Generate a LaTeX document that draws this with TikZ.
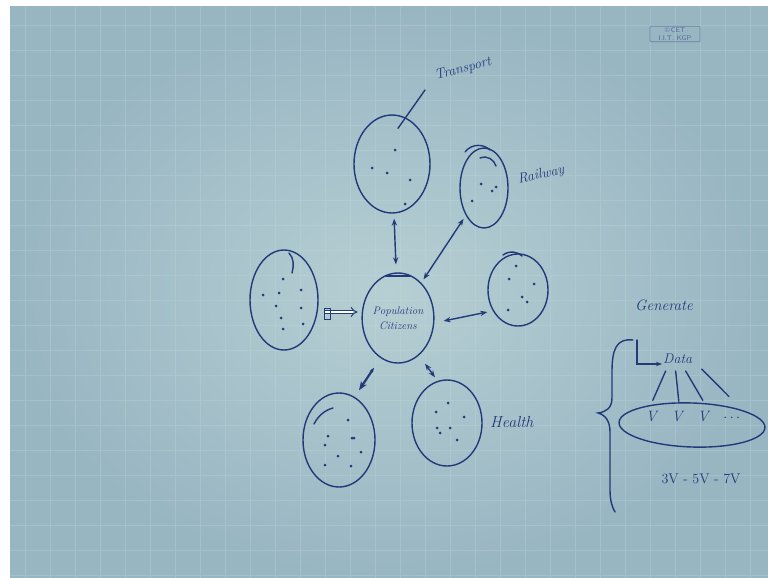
\documentclass[tikz,border=0pt]{standalone}
\usetikzlibrary{shapes.geometric,arrows.meta,calc}
\definecolor{paper}{RGB}{182,207,211}
\definecolor{paperedge}{RGB}{152,181,194}
\definecolor{gridc}{RGB}{196,218,222}
\definecolor{ink}{RGB}{34,58,122}
\begin{document}
\begin{tikzpicture}[x=1pt,y=-1pt,
  pen/.style={draw=ink,line width=1.4pt,line cap=round},
  blob/.style={ellipse,draw=ink,line width=1.4pt,inner sep=0pt},
  hand/.style={text=ink,font=\itshape\fontsize{14}{16}\selectfont,inner sep=1pt},
  link/.style={ink,line width=1.4pt,{Stealth[length=7pt]}-{Stealth[length=7pt]}},
  dot/.style={fill=ink,draw=none}]
\useasboundingbox (0,0) rectangle (768,578);
\fill[white] (0,0) rectangle (768,578);
\shade[inner color=paper,outer color=paperedge] (10,7) rectangle (768,578);
\draw[gridc,opacity=0.3,line width=0.5pt,step=25pt] (10,7) grid (768,578);
% CET stamp
\node[draw=ink!65,line width=0.7pt,align=center,text=ink!75,font=\sffamily\fontsize{7}{7.5}\selectfont,inner xsep=3pt,inner ysep=1.5pt,rounded corners=1pt,minimum width=50pt] (cet) at (675,34) {\copyright\,CET\\I.I.T. KGP};
% circles
\node[blob,minimum width=76pt,minimum height=98pt] (tr) at (392,164) {};
\node[blob,minimum width=48pt,minimum height=80pt] (rw) at (484,188) {};
\node[blob,minimum width=68pt,minimum height=100pt] (lf) at (284,300) {};
\node[blob,minimum width=70pt,minimum height=90pt,align=center,font=\itshape\fontsize{11}{15}\selectfont,text=ink] (pop) at (398,318) {Population\\Citizens};
\node[blob,minimum width=60pt,minimum height=72pt] (rt) at (518,290) {};
\node[blob,minimum width=72pt,minimum height=94pt] (bl) at (339,440) {};
\node[blob,minimum width=70pt,minimum height=86pt] (hl) at (447,423) {};
% overlapping stroke starts
\draw[pen] (289,253) .. controls (294,258) and (294,266) .. (292,273);
\draw[pen] (465,152) .. controls (472,143) and (484,144) .. (490,150);
\draw[pen] (480,158) .. controls (488,155) and (494,160) .. (496,166);
\draw[pen] (333,408) .. controls (325,410) and (318,416) .. (314,424);
\draw[pen] (386,276) -- (410,276);
\draw[pen] (503,255) .. controls (510,250) and (518,252) .. (522,256);
% dots
\foreach \p in {(395,150),(372,168),(387,173),(410,180),(405,204)} \fill[dot] \p circle (1.5pt);
\foreach \p in {(481,184),(472,201),(492,191),(496,187)} \fill[dot] \p circle (1.5pt);
\foreach \p in {(283,279),(263,295),(279,293),(301,290),(276,306),(301,308),(281,318),(303,324),(283,329)} \fill[dot] \p circle (1.5pt);
\foreach \p in {(516,266),(509,279),(534,284),(522,297),(527,302),(508,310)} \fill[dot] \p circle (1.5pt);
\foreach \p in {(348,420),(328,436),(352,438),(325,445),(361,452),(338,456),(325,465),(351,466),(354,438)} \fill[dot] \p circle (1.5pt);
\foreach \p in {(448,403),(436,412),(464,417),(437,428),(450,428),(440,433),(457,440)} \fill[dot] \p circle (1.5pt);
% labels
\coordinate (trtip) at (425,90);
\draw[pen] ($(tr.north)+(6,14)$) -- (trtip);
\node[hand,rotate=15,anchor=west] (trl) at (434,77) {Transport};
\node[hand,rotate=12,anchor=west] (rwl) at (517,180) {Railway};
\node[hand,anchor=west,font=\itshape\fontsize{16}{18}\selectfont] (hll) at (489,422) {Health};
% connectors
\draw[link,shorten <=5pt,shorten >=8pt] (tr) -- (pop);
\draw[link,shorten <=4pt,shorten >=4pt] (rw) -- (pop);
\draw[ink,line width=1pt,double distance=2.4pt,-{Implies[length=6pt]}] ($(lf.east)+(6,12)$) -- ($(pop.west)+(-4,-6)$);
\draw[pen,line width=0.9pt] ($(lf.east)+(6,8)$) rectangle ($(lf.east)+(12,19)$);
\draw[link] ($(pop.east)+(9,3)$) -- ($(rt.west)+(0,22)$);
\draw[link,line width=2.2pt,{Stealth[length=5pt]}-{Stealth[length=9pt]}] ($(pop.south)+(-24,4)$) -- ($(bl.north)+(20,-2)$);
\draw[link] ($(pop.south)+(27,0)$) -- ($(hl.north)+(-12,-2)$);
% right side
\node[hand,font=\itshape\fontsize{15}{17}\selectfont] (gen) at (664,305) {Generate};
\draw[pen] (633,340) .. controls (616,338) and (612,350) .. (612,372) -- (612,398) .. controls (612,408) and (606,412) .. (598,413) .. controls (606,415) and (610,422) .. (610,432) -- (610,490) .. controls (610,500) and (612,507) .. (615,512);
\node[hand,anchor=west] (data) at (662,359) {Data};
\draw[pen,-{Stealth[length=6pt]}] (637,340) -- (637,364) -- (data.west |- 0,364);
\node[blob,minimum width=146pt,minimum height=44pt,rotate=-2] (vs) at (692,425) {};
\node[hand,font=\itshape\fontsize{15}{17}\selectfont] (vvv) at (693,417) {V\quad V\quad V\quad $\cdots$};
\draw[pen] ($(data.south)+(-12,6)$) -- ($(vs.north)+(-40,-2)$);
\draw[pen] ($(data.south)+(-2,6)$) -- ($(vs.north)+(-14,-1)$);
\draw[pen] ($(data.south)+(8,6)$) -- ($(vs.north)+(10,-2)$);
\draw[pen] ($(data.south)+(24,4)$) -- ($(vs.north)+(36,-6)$);
\node[hand,font=\fontsize{14}{16}\selectfont] (v357) at (701,479) {3V - 5V - 7V};
\end{tikzpicture}
\end{document}
